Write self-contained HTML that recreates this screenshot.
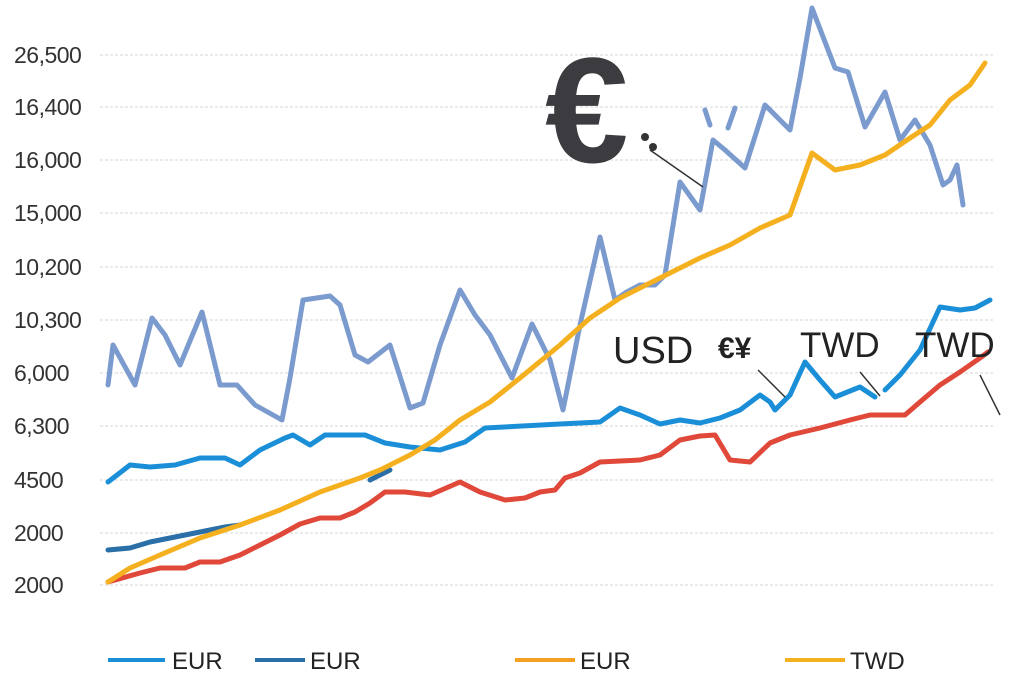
<!DOCTYPE html>
<html><head><meta charset="utf-8"><style>
html,body{margin:0;padding:0;background:#fff;width:1024px;height:684px;overflow:hidden}
svg text{font-family:"Liberation Sans",sans-serif}
</style></head><body>
<svg width="1024" height="684" viewBox="0 0 1024 684">
<g stroke="#d4d4d4" stroke-width="1" stroke-dasharray="3,2">
<line x1="100" y1="55" x2="995" y2="55"/><line x1="100" y1="107" x2="995" y2="107"/>
<line x1="100" y1="160" x2="995" y2="160"/><line x1="100" y1="213" x2="995" y2="213"/>
<line x1="100" y1="267" x2="995" y2="267"/><line x1="100" y1="320" x2="995" y2="320"/>
<line x1="100" y1="373" x2="995" y2="373"/><line x1="100" y1="426" x2="995" y2="426"/>
<line x1="100" y1="480" x2="995" y2="480"/><line x1="100" y1="533" x2="995" y2="533"/>
<line x1="100" y1="585" x2="995" y2="585"/>
</g>
<g font-size="23" fill="#333" letter-spacing="-0.5">
<text x="14" y="63">26,500</text><text x="14" y="115">16,400</text><text x="14" y="168">16,000</text>
<text x="14" y="221">15,000</text><text x="14" y="275">10,200</text><text x="14" y="328">10,300</text>
<text x="14" y="381">6,000</text><text x="14" y="434">6,300</text><text x="14" y="488">4500</text>
<text x="14" y="541">2000</text><text x="14" y="593">2000</text>
</g>
<g fill="none" stroke-linejoin="round" stroke-linecap="round" stroke-width="5">
<polyline stroke="#7b9bcf" points="108,385 113,345 135,385 152,318 165,335 180,365 202,312 220,385 237,385 255,405 282,420 290,378 303,300 330,296 340,305 355,355 368,362 390,345 410,408 423,403 440,345 460,290 475,315 490,335 512,378 532,324 550,360 563,410 580,325 600,237 615,300 625,293 640,285 655,285 665,275 680,182 700,210 713,140 725,150 745,168 765,105 790,130 800,78 812,8 835,68 848,72 865,127 885,92 900,140 915,120 930,145 943,185 950,180 957,165 963,205"/>
<polyline stroke="#7b9bcf" points="705,110 710,125"/><polyline stroke="#7b9bcf" points="735,108 728,128"/>
<polyline stroke="#2a6fa8" points="108,550 130,548 150,542 175,537 200,532 225,527 240,525"/>
<polyline stroke="#2a6fa8" points="370,480 390,470"/>
<polyline stroke="#e0483a" points="108,582 140,573 160,568 185,568 200,562 220,562 240,555 260,545 280,535 300,524 320,518 340,518 355,512 370,503 385,492 405,492 430,495 460,482 480,492 505,500 525,498 540,492 555,490 565,478 580,473 600,462 620,461 640,460 660,455 680,440 700,436 715,435 730,460 750,462 770,443 790,435 820,428 850,420 870,415 890,415 905,415 920,402 940,385 960,372 980,358 988,352"/>
<polyline stroke="#1a8fd8" points="108,482 130,465 150,467 175,465 200,458 225,458 240,465 260,450 285,438 293,435 310,445 325,435 365,435 385,443 410,447 440,450 465,442 485,428 560,424 600,422 620,408 640,415 660,424 680,420 700,423 720,418 740,410 760,395 770,402 775,410 790,395 805,362 820,380 835,397 860,387 875,397"/>
<polyline stroke="#1a8fd8" points="885,390 900,375 920,350 940,307 960,310 975,308 990,300"/>
<polyline stroke="#f5b020" points="108,582 130,568 160,555 200,538 240,525 280,510 320,492 360,478 380,470 410,455 435,440 460,420 490,402 520,378 560,345 590,318 620,298 660,278 700,258 730,245 760,228 790,215 812,153 835,170 860,165 885,155 910,138 930,125 950,100 970,85 985,63"/>
</g>
<g stroke="#333" stroke-width="1.5">
<line x1="650" y1="150" x2="703" y2="187"/><line x1="758" y1="370" x2="785" y2="397"/>
<line x1="860" y1="372" x2="880" y2="396"/><line x1="980" y1="375" x2="1000" y2="415"/>
</g>
<circle cx="645" cy="137" r="4" fill="#333"/><circle cx="653" cy="147" r="4" fill="#333"/>
<text x="545" y="162" font-size="150" font-weight="bold" fill="#3c3c40">€</text>
<text x="613" y="363" font-size="38" fill="#222">USD</text>
<text x="718" y="358" font-size="30" font-weight="bold" fill="#222">€¥</text>
<text x="800" y="357" font-size="35" fill="#222">TWD</text>
<text x="915" y="357" font-size="35" fill="#222">TWD</text>
<g stroke-width="4">
<line x1="108" y1="660" x2="165" y2="660" stroke="#1a8fd8"/>
<line x1="255" y1="660" x2="305" y2="660" stroke="#2a6fa8"/>
<line x1="515" y1="660" x2="575" y2="660" stroke="#f5a020"/>
<line x1="785" y1="660" x2="845" y2="660" stroke="#f5b020"/>
</g>
<g font-size="24" fill="#222">
<text x="172" y="669">EUR</text><text x="310" y="669">EUR</text>
<text x="580" y="669">EUR</text><text x="850" y="669">TWD</text>
</g>
</svg>
</body></html>
